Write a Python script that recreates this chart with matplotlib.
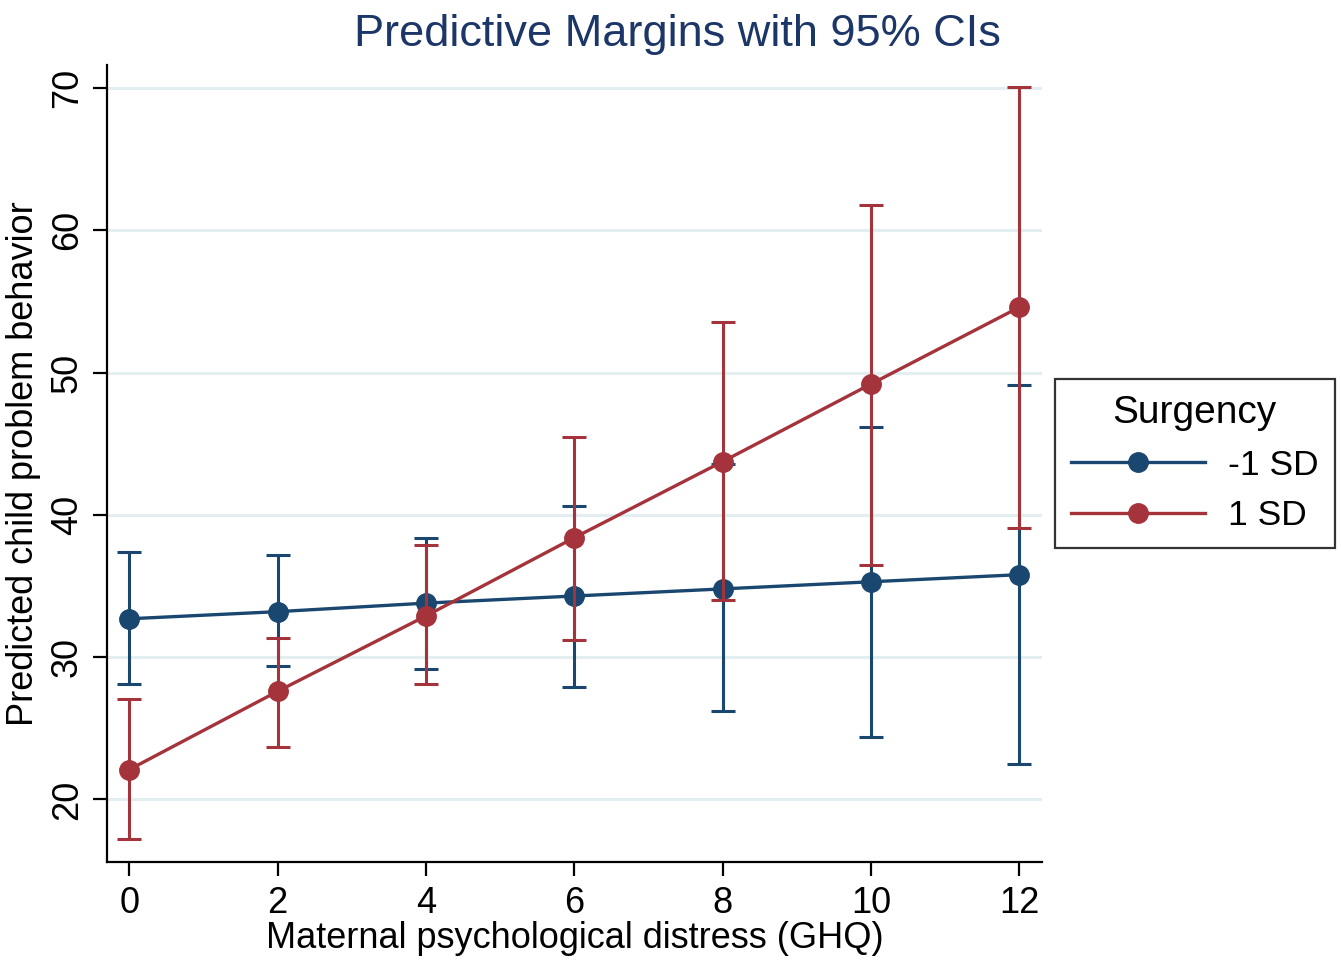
import matplotlib
matplotlib.use("Agg")
import matplotlib.pyplot as plt

plt.rcParams['font.family'] = ['Liberation Sans', 'DejaVu Sans']

# GHQ values on x axis
ghq = [0, 2, 4, 6, 8, 10, 12]

# Surgency -1 SD
low_mean = [32.7, 33.2, 33.8, 34.3, 34.8, 35.3, 35.8]
low_lo = [28.1, 29.35, 29.15, 27.9, 26.25, 24.4, 22.5]
low_hi = [37.4, 37.15, 38.35, 40.65, 43.55, 46.15, 49.1]

# Surgency 1 SD
high_mean = [22.1, 27.6, 32.9, 38.4, 43.75, 49.2, 54.6]
high_lo = [17.2, 23.7, 28.1, 31.2, 34.0, 36.5, 39.05]
high_hi = [27.05, 31.35, 37.85, 45.45, 53.55, 61.8, 70.1]

blue = '#1a476f'
red = '#a5333b'

fig = plt.figure(figsize=(13.41, 9.6), dpi=100)
ax = fig.add_axes([0.0798, 0.102, 0.697, 0.830])

for mean, lo, hi, col, lab in [(low_mean, low_lo, low_hi, blue, '-1 SD'),
                               (high_mean, high_lo, high_hi, red, '1 SD')]:
    err = [[m - l for m, l in zip(mean, lo)], [h - m for m, h in zip(mean, hi)]]
    ax.errorbar(ghq, mean, yerr=err, fmt='none', ecolor=col, elinewidth=2.2,
                capsize=8.5, capthick=2.2)
    ax.plot(ghq, mean, color=col, lw=2.4, marker='o', ms=14, label=lab)

ax.set_xlim(-0.3, 12.3)
ax.set_ylim(15.6, 71.6)
ax.set_xticks(ghq)
ax.set_yticks([20, 30, 40, 50, 60, 70])
ax.tick_params(axis='both', labelsize=26, length=10, width=1.6, direction='out')
ax.tick_params(axis='x', pad=7)
ax.tick_params(axis='y', pad=6)
for t in ax.get_yticklabels():
    t.set_rotation(90)
    t.set_va('center')
ax.grid(axis='y', color='#e3eef0', lw=2.2)
ax.set_axisbelow(True)
for s in ['top', 'right']:
    ax.spines[s].set_visible(False)
for s in ['left', 'bottom']:
    ax.spines[s].set_linewidth(1.6)

ax.set_xlabel('Maternal psychological distress (GHQ)', fontsize=26, labelpad=0)
ax.set_ylabel('Predicted child problem behavior', fontsize=26, labelpad=6)
fig.text(0.505, 0.964, 'Predictive Margins with 95% CIs', fontsize=32.5,
         color='#1c3767', ha='center', va='center')

leg = ax.legend(loc='center left', bbox_to_anchor=(1.014, 0.5), title='Surgency',
                fontsize=25.5, title_fontsize=28, frameon=True, fancybox=False,
                edgecolor='black', handlelength=3.8, handletextpad=0.65,
                borderpad=0.45, borderaxespad=0, labelspacing=0.5)
leg.get_frame().set_linewidth(1.6)

fig.savefig('out.png', dpi=100)
